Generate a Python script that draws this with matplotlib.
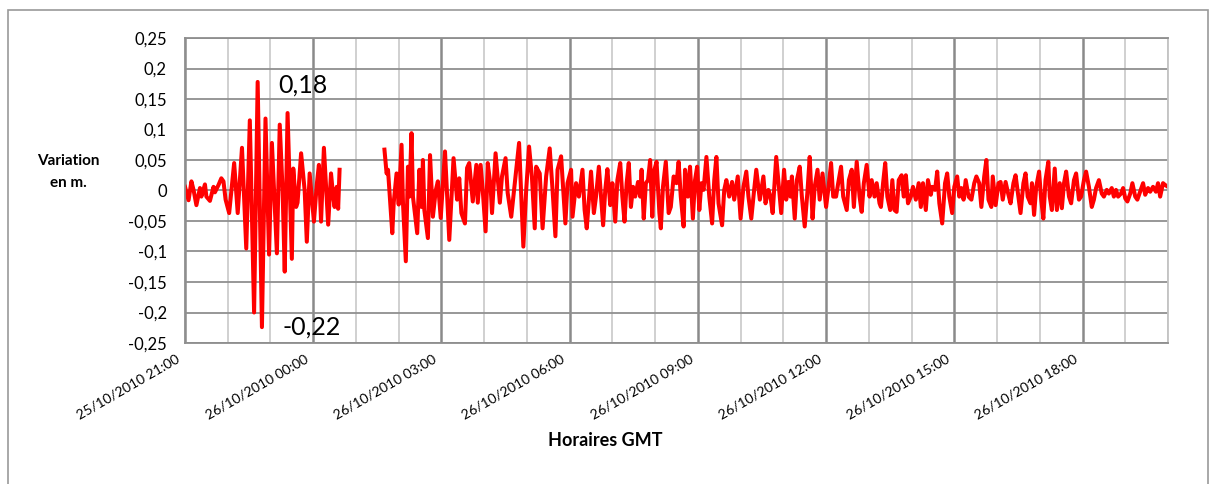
import numpy as np
import matplotlib
matplotlib.use('Agg')
import matplotlib.pyplot as plt
import matplotlib.dates as mdates
import matplotlib.transforms as mtransforms
from matplotlib.ticker import MultipleLocator, FuncFormatter
from matplotlib.patches import Rectangle

plt.rcParams['font.family'] = ['Lato', 'DejaVu Sans']

# debut de la serie : 25/10/2010 21:00 GMT, temps en minutes depuis ce debut
debut = np.datetime64('2010-10-25T21:00')
duree_min = 23 * 60

# premier troncon (avant la coupure)
seg1_min = [0, 5, 9, 12, 16, 21, 23, 28, 30, 35,
            40, 42, 47, 51, 54, 57, 62, 69, 74, 80,
            86, 91, 97, 102, 108, 113, 118, 122, 129, 133,
            137, 140, 144, 150, 152, 156, 158, 163, 168, 171,
            175, 181, 185, 188, 191, 195, 201, 205, 208, 210,
            213, 215, 217]
seg1_val = [0.006, -0.016, 0.015, 0.001, -0.024, 0.004, -0.01, 0.01, -0.01, -0.017,
            0.006, -0.003, 0.009, 0.02, 0.015, -0.015, -0.037, 0.045, -0.037, 0.07,
            -0.095, 0.115, -0.2, 0.178, -0.224, 0.118, -0.105, 0.078, -0.103, 0.108,
            0.0, -0.133, 0.127, -0.112, 0.036, -0.027, -0.02, 0.061, 0.0, -0.084,
            0.028, -0.051, 0.01, 0.042, -0.051, 0.07, -0.056, 0.028, -0.01, -0.027,
            0.006, -0.03, 0.034]

# second troncon (apres la coupure)
seg2_min = [280, 283, 285, 291, 293, 297, 300, 304, 306, 310,
            313, 315, 318, 320, 322, 326, 329, 332, 334, 336,
            341, 344, 348, 352, 355, 359, 365, 371, 377, 382,
            385, 388, 393, 396, 399, 404, 409, 411, 415, 418,
            422, 425, 429, 431, 436, 442, 445, 450, 453, 458,
            464, 469, 475, 479, 483, 487, 491, 493, 498, 502,
            507, 512, 516, 520, 523, 528, 534, 537, 542, 544,
            549, 553, 558, 561, 564, 568, 570, 574, 577, 581,
            584, 587, 590, 593, 597, 600, 604, 607, 611, 614,
            617, 620, 623, 626, 629, 632, 636, 639, 641, 644,
            647, 650, 653, 656, 659, 662, 666, 668, 671, 675,
            679, 682, 686, 690, 693, 696, 700, 702, 706, 709,
            713, 716, 719, 722, 725, 728, 732, 736, 740, 743,
            746, 749, 754, 757, 760, 764, 768, 771, 776, 780,
            784, 788, 791, 795, 799, 802, 807, 812, 815, 819,
            822, 825, 830, 837, 841, 844, 847, 850, 852, 856,
            859, 863, 866, 870, 874, 877, 881, 884, 888, 891,
            895, 900, 903, 907, 910, 914, 917, 921, 924, 929,
            932, 936, 939, 943, 947, 950, 953, 957, 961, 964,
            968, 971, 975, 977, 980, 983, 986, 990, 993, 996,
            999, 1002, 1006, 1009, 1012, 1015, 1019, 1022, 1026, 1030,
            1033, 1036, 1040, 1043, 1047, 1049, 1053, 1056, 1059, 1063,
            1067, 1070, 1073, 1077, 1080, 1084, 1087, 1090, 1093, 1096,
            1100, 1104, 1108, 1111, 1115, 1118, 1122, 1125, 1128, 1132,
            1134, 1138, 1142, 1145, 1148, 1152, 1156, 1159, 1163, 1166,
            1170, 1173, 1177, 1180, 1183, 1187, 1189, 1192, 1195, 1199,
            1202, 1205, 1208, 1212, 1214, 1217, 1221, 1224, 1228, 1231,
            1234, 1237, 1241, 1244, 1248, 1251, 1255, 1258, 1262, 1265,
            1269, 1273, 1276, 1279, 1283, 1287, 1290, 1294, 1297, 1301,
            1304, 1307, 1310, 1314, 1317, 1320, 1323, 1327, 1330, 1334,
            1337, 1340, 1345, 1348, 1352, 1355, 1359, 1363, 1366, 1369,
            1373, 1376, 1380]
seg2_val = [0.067, 0.028, 0.034, -0.07, -0.02, 0.028, -0.023, 0.075, -0.02, -0.116,
            0.039, -0.01, 0.094, -0.01, -0.03, -0.07, 0.034, -0.027, 0.05, -0.032,
            -0.078, 0.058, -0.043, 0.0, 0.015, -0.045, 0.064, -0.081, 0.053, -0.015,
            0.02, -0.037, -0.054, 0.037, 0.045, -0.018, 0.042, -0.02, 0.042, 0.0,
            -0.067, 0.045, 0.007, -0.037, 0.061, -0.02, 0.023, 0.053, -0.004, -0.043,
            0.023, 0.078, -0.092, 0.001, 0.072, 0.023, -0.062, 0.039, 0.028, -0.062,
            0.023, 0.069, 0.001, -0.075, 0.034, 0.056, -0.054, 0.012, 0.034, -0.043,
            0.012, -0.01, 0.034, -0.032, -0.062, 0.001, 0.031, -0.037, -0.01, 0.039,
            -0.01, -0.057, 0.001, 0.035, -0.024, 0.012, -0.051, 0.017, 0.045, -0.01,
            -0.051, 0.012, 0.045, -0.027, 0.006, -0.01, 0.014, -0.01, 0.034, -0.046,
            0.012, 0.017, 0.05, -0.043, 0.034, 0.047, -0.037, -0.062, 0.006, 0.047,
            -0.037, -0.027, 0.023, 0.012, 0.047, -0.01, -0.059, 0.034, -0.01, 0.039,
            -0.046, 0.017, 0.039, -0.032, 0.012, 0.001, 0.055, -0.01, -0.054, 0.017,
            0.055, -0.021, -0.057, 0.001, 0.017, -0.01, 0.014, -0.015, 0.023, -0.046,
            0.006, 0.031, -0.01, -0.046, 0.001, 0.034, -0.015, 0.023, -0.021, 0.001,
            -0.01, -0.037, 0.055, -0.037, 0.034, -0.015, 0.014, -0.01, 0.023, -0.046,
            0.017, 0.039, -0.01, -0.059, 0.001, 0.055, -0.046, 0.006, 0.034, -0.015,
            0.028, -0.027, 0.001, 0.045, -0.01, -0.01, 0.012, 0.039, -0.01, -0.032,
            0.017, 0.034, -0.027, 0.047, -0.01, -0.035, 0.012, 0.042, -0.01, 0.017,
            -0.01, 0.012, -0.021, -0.027, 0.012, 0.045, -0.01, -0.032, 0.017, -0.032,
            -0.035, 0.017, 0.025, -0.01, 0.025, -0.021, -0.01, 0.006, -0.015, 0.012,
            -0.027, 0.012, -0.032, 0.017, -0.007, 0.006, 0.001, 0.031, -0.021, -0.054,
            0.012, 0.028, -0.01, -0.037, 0.006, 0.023, -0.01, 0.004, -0.015, 0.017,
            -0.01, -0.015, 0.012, 0.023, 0.012, -0.027, 0.023, 0.05, -0.015, -0.027,
            0.023, -0.024, 0.012, 0.014, -0.015, 0.014, -0.007, -0.021, 0.012, 0.025,
            -0.01, -0.037, 0.012, 0.028, -0.01, -0.021, 0.012, -0.04, 0.006, 0.031,
            -0.015, -0.046, 0.017, 0.047, -0.01, -0.032, 0.036, -0.032, 0.012, -0.029,
            0.012, 0.031, -0.01, -0.021, 0.017, 0.028, -0.015, -0.01, 0.017, 0.031,
            0.006, -0.027, -0.015, 0.004, 0.017, -0.005, -0.01, 0.001, -0.005, 0.004,
            -0.01, 0.001, -0.01, -0.005, 0.004, -0.013, -0.018, -0.005, 0.012, -0.01,
            -0.015, -0.005, 0.012, -0.007, 0.004, -0.002, 0.006, -0.002, 0.012, -0.01,
            0.012, 0.009, 0.006]

assert len(seg1_min) == len(seg1_val)
assert len(seg2_min) == len(seg2_val)

t1 = debut + np.array(seg1_min).astype('timedelta64[m]')
t2 = debut + np.array(seg2_min).astype('timedelta64[m]')

fig = plt.figure(figsize=(12.14, 4.84), dpi=100)
ax = fig.add_axes([185 / 1214, 1 - 343 / 484, 983 / 1214, 305 / 484])

ax.plot(t1, seg1_val, color='#ff0000', lw=2.9, solid_joinstyle='round')
ax.plot(t2, seg2_val, color='#ff0000', lw=2.9, solid_joinstyle='round')

ax.set_xlim(debut, debut + np.timedelta64(duree_min, 'm'))
ax.set_ylim(-0.25, 0.25)

# axe des temps
ax.xaxis.set_major_locator(mdates.HourLocator(byhour=range(0, 24, 3)))
ax.xaxis.set_minor_locator(mdates.HourLocator())
ax.xaxis.set_major_formatter(mdates.DateFormatter('%d/%m/%Y %H:%M'))
ax.yaxis.set_major_locator(MultipleLocator(0.05))


def virgule(v, pos):
    v = round(v, 2)
    if v == 0:
        return '0'
    return ('%g' % v).replace('.', ',')


ax.yaxis.set_major_formatter(FuncFormatter(virgule))

ax.tick_params(which='both', length=0)
ax.tick_params(axis='y', labelsize=12, pad=13)
ax.tick_params(axis='x', labelsize=10, pad=11)
decalage = mtransforms.ScaledTranslation(-0.06, 0, fig.dpi_scale_trans)
for lab in ax.get_xticklabels():
    lab.set_rotation(30)
    lab.set_ha('right')
    lab.set_va('center')
    lab.set_rotation_mode('anchor')
    lab.set_transform(lab.get_transform() + decalage)

# quadrillage
ax.set_axisbelow(True)
ax.grid(which='minor', axis='x', color='#c3c3c3', lw=1.1)
ax.grid(which='major', axis='x', color='#8a8a8a', lw=1.8)
ax.grid(which='major', axis='y', color='#8f8f8f', lw=1.3)
for s in ['left', 'bottom', 'top']:
    ax.spines[s].set_color('#8f8f8f')
    ax.spines[s].set_linewidth(1.3)
ax.spines['right'].set_color('#c3c3c3')
ax.spines['right'].set_linewidth(1.3)

# valeurs extremes
ax.text(0.12, 0.846, '0,18', transform=ax.transAxes, fontsize=18,
        ha='center', va='center')
ax.text(0.129, 0.052, '-0,22', transform=ax.transAxes, fontsize=18,
        ha='center', va='center')

# titres des axes
fig.text(68 / 1214, 1 - 172 / 484, 'Variation\nen m.', fontsize=11,
         fontweight='bold', ha='center', va='center', linespacing=1.7)
fig.text(605 / 1214, 1 - 441 / 484, 'Horaires GMT', fontsize=13,
         fontweight='bold', ha='center', va='center')

# cadre exterieur
fig.add_artist(Rectangle((8 / 1214, -0.1), 1200 / 1214, 1.1 - 10 / 484,
                         transform=fig.transFigure, fill=False,
                         ec='#9a9a9a', lw=1.2))

fig.savefig('out.png', dpi=100)
